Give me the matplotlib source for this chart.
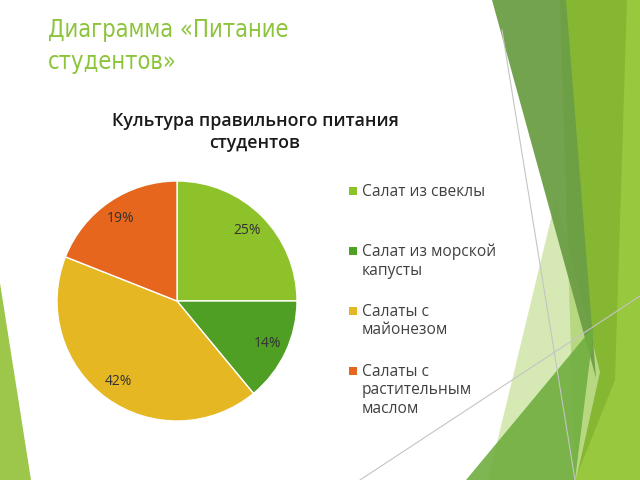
import matplotlib
matplotlib.use('Agg')
from matplotlib import pyplot as plt
from matplotlib.patches import Polygon, Rectangle

# data
categories = ['Салат из свеклы', 'Салат из морской\nкапусты',
              'Салаты с\nмайонезом', 'Салаты с\nрастительным\nмаслом']
shares = [25, 14, 42, 19]
colors = ['#8DC22A', '#4E9F23', '#E5B823', '#E5661C']

slide_title = 'Диаграмма «Питание\nстудентов»'
chart_title = 'Культура правильного питания\nстудентов'

plt.rcParams['font.family'] = ['Open Sans', 'DejaVu Sans']

fig = plt.figure(figsize=(6.4, 4.8), dpi=100)
fig.patch.set_facecolor('white')

# background decorations in pixel coordinates
bg = fig.add_axes([0, 0, 1, 1], zorder=0)
bg.set_xlim(0, 640)
bg.set_ylim(480, 0)
bg.axis('off')

shapes = [
    ([(560, 0), (640, 0), (640, 480), (575, 480)], '#86B733', 1.0),
    ([(556, 198), (488, 480), (576, 480), (600, 372)], '#C9E29C', 0.75),
    ([(627, 0), (640, 0), (640, 480), (575, 480), (615, 380)], '#97C83D', 1.0),
    ([(492, 0), (566, 0), (596, 378)], '#6C9E45', 0.95),
    ([(466, 480), (594, 326), (575, 480)], '#6FAE3F', 0.9),
    ([(0, 283), (31, 480), (0, 480)], '#9CC74A', 1.0),
]
for pts, col, a in shapes:
    bg.add_patch(Polygon(pts, closed=True, facecolor=col, edgecolor='none', alpha=a))
bg.plot([502, 575], [30, 480], color='#C4C4C4', lw=0.8)
bg.plot([360, 640], [480, 296], color='#C4C4C4', lw=0.8)

# slide title
bg.text(48, 18, slide_title, fontsize=17, color='#8CC43C', ha='left',
        va='top', linespacing=1.4, family='DejaVu Sans', fontstretch='condensed')

# chart title
bg.text(255, 132, chart_title, fontsize=12.8, color='#1A1A1A', ha='center',
        va='center', fontweight='semibold', linespacing=1.3)

# pie
ax = fig.add_axes([57 / 640, (480 - 421) / 480, 240 / 640, 240 / 480], zorder=1)
wedges, _, autotexts = ax.pie(shares, colors=colors, startangle=90, counterclock=False,
                              autopct='%1.0f%%', pctdistance=0.83,
                              wedgeprops=dict(edgecolor='white', linewidth=1),
                              textprops=dict(fontsize=10, color='#333333'))
ax.set_xlim(-1, 1)
ax.set_ylim(-1, 1)
ax.set_aspect('equal')

# legend
for i, (lab, col) in enumerate(zip(categories, colors)):
    y = 191 + 60 * i
    bg.add_patch(Rectangle((349, y - 4), 8, 8, facecolor=col, edgecolor='none'))
    bg.text(362, y - 7, lab, fontsize=11.2, color='#404040', ha='left', va='top',
            linespacing=1.2)

fig.savefig('out.png', dpi=100)
